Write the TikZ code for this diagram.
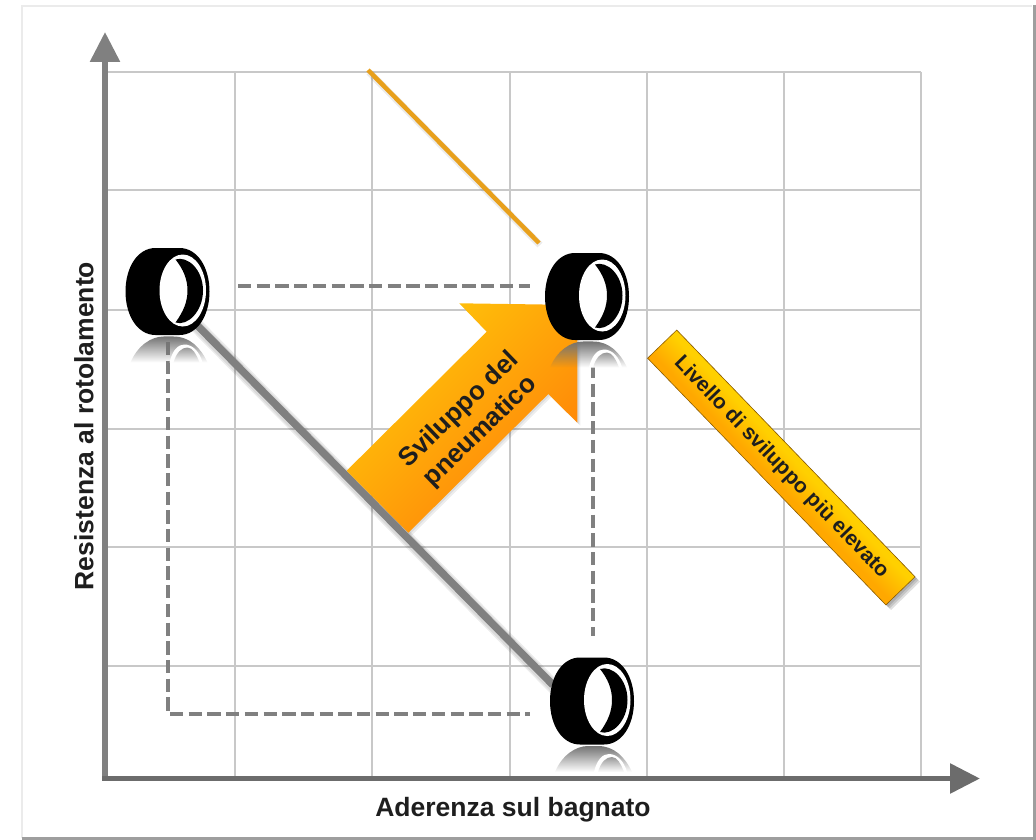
\documentclass[tikz,border=0pt]{standalone}
\usepackage{fontspec}
\setmainfont{Liberation Sans}
\usetikzlibrary{arrows.meta}
\usetikzlibrary{fadings}
\definecolor{axisGray}{RGB}{108,108,108}
\definecolor{gridGray}{RGB}{200,200,200}
\definecolor{dashGray}{RGB}{128,128,128}
\definecolor{lineOrange}{RGB}{232,160,28}
\definecolor{arrowLight}{RGB}{255,200,10}
\definecolor{arrowDark}{RGB}{255,128,8}
\definecolor{bannerLight}{RGB}{255,208,0}
\definecolor{bannerDark}{RGB}{255,168,0}
\definecolor{textDark}{RGB}{30,30,30}
\pgfdeclareverticalshading{bannerShade}{100bp}{color(0bp)=(bannerDark); color(47.4bp)=(bannerDark); color(52.6bp)=(bannerLight); color(100bp)=(bannerLight)}
\tikzset{
  x=1pt, y=-1pt,
  gridline/.style={draw=gridGray, line width=1.8},
  axisline/.style={line width=5.8, -{Triangle[length=30,width=29]}},
  dashline/.style={draw=dashGray, line width=4.2, dash pattern=on 13.3 off 5.4},
  axislabel/.style={font=\fontsize{26.5}{30}\selectfont\bfseries, text=textDark},
  bannerbox/.style={rectangle, rotate=-46, minimum width=343, minimum height=40.5, inner sep=0},
}
\newcommand{\drawTire}[3]{
  \coordinate (#3) at (#1,#2);
  \begin{scope}[shift={(#3)}]
    % mirror image below the tire
    \fill[black!55, path fading=south] (-37,71) .. controls (-30,54) and (-16,45) .. (-4,45) -- (6,45) .. controls (22,45) and (33,56) .. (40,71) -- cycle;
    \fill[white] (2,71) .. controls (5,58) and (11,53) .. (17,53) .. controls (25,53) and (32,60) .. (35,71) -- cycle;
    \fill[black!40, path fading=south] (6,71) .. controls (9,61) and (14,56) .. (20,56) .. controls (25,56) and (29,63) .. (32,71) -- cycle;
    % body
    \fill[black] (-12,-43.5) -- (12,-43.5) .. controls (30,-43.5) and (42,-24) .. (42,0) .. controls (42,24) and (30,43.5) .. (12,43.5) -- (-12,43.5) .. controls (-30,43.5) and (-42,24) .. (-42,0) .. controls (-42,-24) and (-30,-43.5) .. (-12,-43.5) -- cycle;
    \fill[white] (15.25,-1) ellipse (23.25 and 36);
    \fill[black] (8,-32) .. controls (20,-36) and (35.5,-22) .. (35.5,-1) .. controls (35.5,20) and (20,35) .. (8,31) .. controls (16,20) and (20,10) .. (20,-1) .. controls (20,-12) and (16,-22) .. (8,-32) -- cycle;
  \end{scope}
}
\begin{document}
\begin{tikzpicture}
\useasboundingbox (0,0) rectangle (1036,840);
%Frame
\draw[black!8, line width=1.5] (22,838) -- (22,6) -- (1032,6);
\draw[black!38, line width=3] (1034,5) -- (1034,838.5) -- (22,838.5);

%Grid
\foreach \i in {235,372,510,647,784,921}
{
	\draw[gridline] (\i,72) -- (\i,778);
}
\foreach \j in {72,190,310,429,547,666}
{
	\draw[gridline] (105,\j) -- (921,\j);
}

%Draw axes
\coordinate (origin) at (105,778.5);
\coordinate (yEnd) at (105,32);
\coordinate (xEnd) at (980,778.5);
\draw[axisline, draw=dashGray] (origin) -- (yEnd);
\draw[axisline, draw=axisGray] (102,778.5) -- (xEnd);
\node[axislabel] (xLabel) at (513,810) {Aderenza sul bagnato};
\node[axislabel, rotate=90] (yLabel) at (84,426) {Resistenza al rotolamento};

%Dashed guides
\coordinate (guideTop1) at (238,286);
\coordinate (guideTop2) at (530,286);
\coordinate (guideLeft1) at (168,342);
\coordinate (guideLeft2) at (168,714);
\coordinate (guideLow) at (530,714);
\coordinate (guideRight1) at (593,365);
\coordinate (guideRight2) at (593,636);

%Lines with their shadows
\coordinate (greyStart) at (190,318);
\coordinate (greyEnd) at (553,685);
\coordinate (orangeStart) at (368,70);
\coordinate (orangeEnd) at (539,243);
\foreach \w in {14,11}
{
	\draw[black, opacity=0.08, line width=\w] ([shift={(2,3)}]greyStart) -- ([shift={(2,3)}]greyEnd);
}
\draw[dashGray, line width=7.5] (greyStart) -- (greyEnd);
\draw[black, opacity=0.08, line width=7] ([shift={(1,2)}]orangeStart) -- ([shift={(1,2)}]orangeEnd);
\draw[lineOrange, line width=4.5] (orangeStart) -- (orangeEnd);

\draw[dashline] (guideTop1) -- (guideTop2);
\draw[dashline] (guideLeft1) -- (guideLeft2) -- (guideLow);
\draw[dashline] (guideRight1) -- (guideRight2);

%Big arrow
\foreach \s in {3,1.5}
{
	\fill[black, opacity=0.07, shift={(\s,\s)}] (346.7,470.7) -- (486.7,331.7) -- (459.3,303.3) -- (577.3,305) -- (577.3,422.7) -- (548.3,394) -- (408.3,532.7) -- cycle;
}
\shade[top color=arrowLight, bottom color=arrowDark, shading angle=45] (346.7,470.7) -- (486.7,331.7) -- (459.3,303.3) -- (577.3,305) -- (577.3,422.7) -- (548.3,394) -- (408.3,532.7) -- cycle;
\node[font=\fontsize{26}{30}\selectfont\bfseries, text=textDark, align=center, rotate=44] (arrowText) at (470,421) {Sviluppo del\\pneumatico};

%Tires
\drawTire{167.5}{291.5}{tireLeft}
\drawTire{587}{296.5}{tireTop}
\drawTire{592}{701}{tireLow}

%Banner
\foreach \s in {5,3.5,2}
{
	\fill[black, opacity=0.12, shift={(\s,\s)}] (676.7,330) -- (915,576.7) -- (886,605) -- (647.7,357.7) -- cycle;
}
\node[bannerbox, shade, shading=bannerShade, shading angle=-46, draw=black!45!bannerDark, line width=0.6, font=\fontsize{21}{26}\selectfont\bfseries, text=textDark] (banner) at (781.3,467.5) {Livello di sviluppo più elevato};
\end{tikzpicture}
\end{document}
